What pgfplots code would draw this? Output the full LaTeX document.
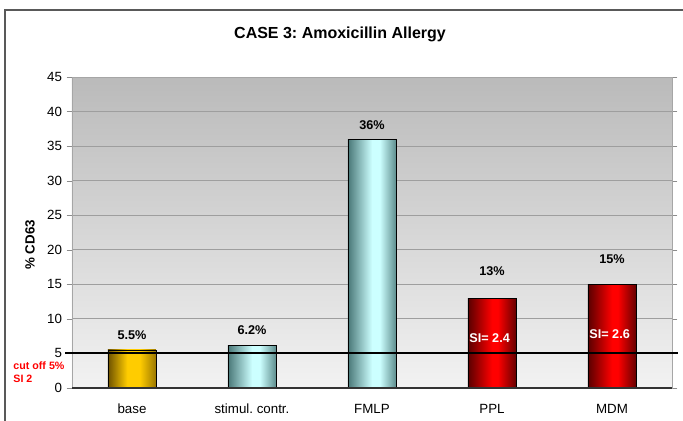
\documentclass[border=0pt]{standalone}
\usepackage{pgfplots}
\pgfplotsset{compat=1.18}
\usepackage{fontspec}
\setmainfont{Liberation Sans}
\frenchspacing
\definecolor{gA}{HTML}{6E5200}
\definecolor{gB}{HTML}{FFCC00}
\definecolor{gC}{HTML}{9C7800}
\definecolor{cA}{HTML}{4A7878}
\definecolor{cB}{HTML}{CCFFFF}
\definecolor{cC}{HTML}{5E8E8E}
\definecolor{rA}{HTML}{5A0000}
\definecolor{rB}{HTML}{FF0000}
\definecolor{rC}{HTML}{660000}
\pgfdeclarehorizontalshading{goldbar}{100bp}{color(0bp)=(gA); color(25bp)=(gA); color(45bp)=(gB); color(58bp)=(gB); color(75bp)=(gC); color(100bp)=(gC)}
\pgfdeclarehorizontalshading{cyanbar}{100bp}{color(0bp)=(cA); color(25bp)=(cA); color(50bp)=(cB); color(58bp)=(cB); color(75bp)=(cC); color(100bp)=(cC)}
\pgfdeclarehorizontalshading{redbar}{100bp}{color(0bp)=(rA); color(25bp)=(rA); color(50bp)=(rB); color(56bp)=(rB); color(75bp)=(rC); color(100bp)=(rC)}
\begin{document}
\begin{tikzpicture}
\useasboundingbox (-54pt,-24.75pt) rectangle (458.25pt,291pt);
\draw[black!65, line width=0.8pt] (-50.25pt,-30pt) -- (-50.25pt,283.5pt) -- (470pt,283.5pt);
\begin{axis}[
  at={(0,0)}, anchor=south west, scale only axis,
  width=450pt, height=233.25pt,
  xmin=-0.5, xmax=4.5, ymin=0, ymax=45,
  ytick={0,5,...,45},
  xtick={0,...,4},
  xticklabels={base, stimul. contr., FMLP, PPL, MDM},
  major x tick style={draw=none},
  extra x ticks={-0.5,0.5,1.5,2.5,3.5,4.5},
  extra x tick labels={},
  extra x tick style={major tick length=4pt, tick style={black!45}},
  ytick style={black!45},
  tick align=outside, major tick length=4pt,
  ybar, bar width=36pt, bar shift=0pt,
  ymajorgrids, grid style={black!38, line width=0.7pt},
  axis background/.style={top color=black!27, bottom color=black!5},
  axis line style={black!35},
  ticklabel style={font=\fontsize{10}{12}\selectfont},
  xticklabel style={yshift=-4.5pt},
  /pgf/number format/assume math mode=true,
  ylabel={\% CD63},
  ylabel style={at={(rel axis cs:-0.07,0.46)}, anchor=center, font=\fontsize{10}{12}\selectfont\bfseries},
  clip=false,
  every node near coord/.append style={font=\fontsize{9.5}{11}\selectfont\bfseries, text=black},
]
\addplot[draw=black, line width=0.6pt, shade, shading=goldbar, nodes near coords, point meta=explicit symbolic,
  every node near coord/.append style={yshift=4pt}] coordinates {(0,5.5) [5.5\%]};
\addplot[draw=black, line width=0.6pt, shade, shading=cyanbar, nodes near coords, point meta=explicit symbolic,
  every node near coord/.append style={yshift=4.5pt}] coordinates {(1,6.2) [6.2\%]};
\addplot[draw=black, line width=0.6pt, shade, shading=cyanbar, nodes near coords, point meta=explicit symbolic,
  every node near coord/.append style={yshift=3.5pt}] coordinates {(2,36) [36\%]};
\addplot[draw=black, line width=0.6pt, shade, shading=redbar, nodes near coords, point meta=explicit symbolic,
  every node near coord/.append style={yshift=13pt}] coordinates {(3,13) [13\%]};
\addplot[draw=black, line width=0.6pt, shade, shading=redbar, nodes near coords, point meta=explicit symbolic,
  every node near coord/.append style={yshift=12pt}] coordinates {(4,15) [15\%]};
\addplot[sharp plot, black, line width=1.5pt, forget plot] coordinates {(-0.558,5) (4.55,5)};
\draw[black!80, line width=0.8pt] (rel axis cs:0,0) -- (rel axis cs:1,0);
\node[font=\fontsize{12}{14}\selectfont\bfseries] at (rel axis cs:0.4467,1.136) {CASE 3: Amoxicillin Allergy};
\node[anchor=west, text=red, font=\fontsize{8}{9}\selectfont\bfseries, inner sep=0pt] at (rel axis cs:-0.098,0.071) {cut off 5\%};
\node[anchor=west, text=red, font=\fontsize{8}{9}\selectfont\bfseries, inner sep=0pt] at (rel axis cs:-0.098,0.029) {SI 2};
\node[text=white, font=\fontsize{9.5}{11}\selectfont\bfseries] at (axis cs:2.98,7.2) {SI= 2.4};
\node[text=white, font=\fontsize{9.5}{11}\selectfont\bfseries] at (axis cs:3.98,7.8) {SI= 2.6};
\end{axis}
\end{tikzpicture}
\end{document}
